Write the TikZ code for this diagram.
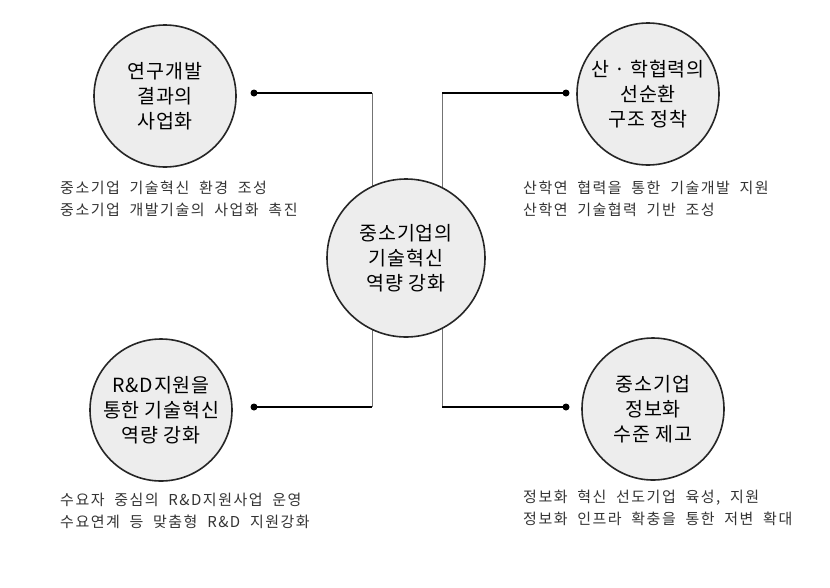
\documentclass[tikz,border=0pt]{standalone}
\usepackage{fontspec}
\setmainfont{Noto Sans CJK KR}
\newfontfamily\capfont[LetterSpace=10,WordSpace=2]{Noto Sans CJK KR}
\newfontfamily\bubfont[LetterSpace=4]{Noto Sans CJK KR}
\begin{document}
\begin{tikzpicture}[x=1pt,y=-1pt,
  bubble/.style={circle,draw=black!85,line width=1.6pt,fill=black!7,minimum size=142pt,inner sep=0pt,align=center,font=\bubfont\fontsize{19.5}{25}\selectfont},
  hub/.style={bubble,minimum size=158pt},
  caption/.style={anchor=west,align=left,inner sep=0pt,text=black!80,font=\capfont\fontsize{15}{22}\selectfont},
  dotmark/.style={circle,fill=black,inner sep=0pt,minimum size=7pt},
  bar/.style={line width=2.2pt,black},
  riser/.style={line width=0.7pt,black!55}]
\useasboundingbox (0,0) rectangle (830,587);
% bracket corners
\coordinate (ltop) at (372,93);
\coordinate (lbot) at (372,407);
\coordinate (rtop) at (442,93);
\coordinate (rbot) at (442,407);
% dots
\node[dotmark] (dtl) at (254,93) {};
\node[dotmark] (dbl) at (254,407) {};
\node[dotmark] (dtr) at (566,93) {};
\node[dotmark] (dbr) at (566,407) {};
% connectors
\draw[riser] (ltop) -- (lbot);
\draw[riser] (rtop) -- (rbot);
\draw[bar] (dtl.center) -- (ltop);
\draw[bar] (dbl.center) -- (lbot);
\draw[bar] (rtop) -- (dtr.center);
\draw[bar] (rbot) -- (dbr.center);
% bubbles
\node[hub] (hub) at (406,258) {중소기업의\\기술혁신\\역량 강화};
\node[bubble] (tl) at (165,96) {연구개발\\결과의\\사업화};
\node[bubble] (tr) at (648,94) {산 · 학협력의\\선순환\\구조 정착};
\node[bubble] (bl) at (161,410) {R\&D지원을\\통한 기술혁신\\역량 강화};
\node[bubble] (br) at (653,409) {중소기업\\정보화\\수준 제고};
% captions
\node[caption] (ctl) at (60,199) {중소기업 기술혁신 환경 조성\\중소기업 개발기술의 사업화 촉진};
\node[caption] (ctr) at (523,199) {산학연 협력을 통한 기술개발 지원\\산학연 기술협력 기반 조성};
\node[caption] (cbl) at (60,511) {수요자 중심의 R\&D지원사업 운영\\수요연계 등 맞춤형 R\&D 지원강화};
\node[caption] (cbr) at (523,508) {정보화 혁신 선도기업 육성, 지원\\정보화 인프라 확충을 통한 저변 확대};
\end{tikzpicture}
\end{document}
